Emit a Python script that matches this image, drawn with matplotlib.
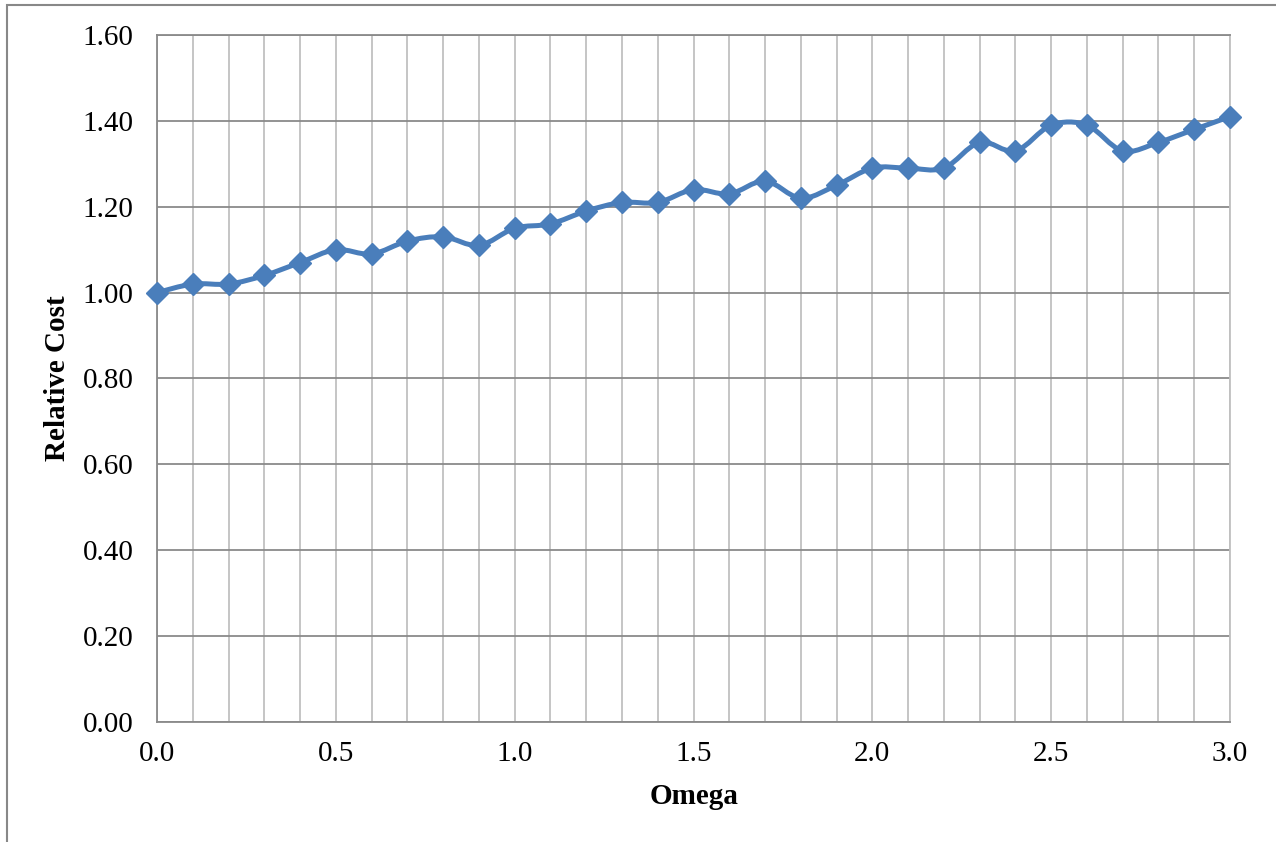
import numpy as np
import matplotlib
matplotlib.use("Agg")
from matplotlib import pyplot as plt
from matplotlib.path import Path
from matplotlib.patches import PathPatch, Rectangle

omega = [0.0, 0.1, 0.2, 0.3, 0.4, 0.5, 0.6, 0.7, 0.8, 0.9, 1.0,
         1.1, 1.2, 1.3, 1.4, 1.5, 1.6, 1.7, 1.8, 1.9, 2.0,
         2.1, 2.2, 2.3, 2.4, 2.5, 2.6, 2.7, 2.8, 2.9, 3.0]
relative_cost = [1.00, 1.02, 1.02, 1.04, 1.07, 1.10, 1.09, 1.12, 1.13, 1.11, 1.15,
                 1.16, 1.19, 1.21, 1.21, 1.24, 1.23, 1.26, 1.22, 1.25, 1.29,
                 1.29, 1.29, 1.35, 1.33, 1.39, 1.39, 1.33, 1.35, 1.38, 1.41]
y_ticks = [0.0, 0.2, 0.4, 0.6, 0.8, 1.0, 1.2, 1.4, 1.6]
x_ticks = [0.0, 0.5, 1.0, 1.5, 2.0, 2.5, 3.0]

plt.rcParams['font.family'] = ['Liberation Serif', 'DejaVu Serif']

fig = plt.figure(figsize=(12.76, 8.42), dpi=100)
ax = fig.add_axes([157 / 1276, 1 - 722 / 842, (1230 - 157) / 1276, (722 - 35) / 842])

# outer chart border (cropped on right/bottom)
fig.patches.append(Rectangle((7 / 1276, -0.05), 1.2, 1 - 5 / 842 + 0.05,
                             transform=fig.transFigure, fill=False,
                             edgecolor='#888888', linewidth=1.5))

# Excel-like smoothed line: Catmull-Rom as cubic Bezier segments
x = np.array(omega)
y = np.array(relative_cost)
t = 1 / 6
verts = [(x[0], y[0])]
codes = [Path.MOVETO]
n = len(x)
for i in range(n - 1):
    p0 = (x[max(i - 1, 0)], y[max(i - 1, 0)])
    p1 = (x[i], y[i])
    p2 = (x[i + 1], y[i + 1])
    p3 = (x[min(i + 2, n - 1)], y[min(i + 2, n - 1)])
    c1 = (p1[0] + (p2[0] - p0[0]) * t, p1[1] + (p2[1] - p0[1]) * t)
    c2 = (p2[0] - (p3[0] - p1[0]) * t, p2[1] - (p3[1] - p1[1]) * t)
    verts += [c1, c2, p2]
    codes += [Path.CURVE4] * 3
ax.add_patch(PathPatch(Path(verts, codes), fill=False, edgecolor='#4a7ebb',
                       linewidth=3.6, capstyle='round', joinstyle='round',
                       zorder=3, clip_on=False))
ax.plot(omega, relative_cost, linestyle='none', marker='D', markersize=11,
        color='#4a7ebb', zorder=4, clip_on=False)

ax.set_xlim(0, 3.0)
ax.set_ylim(0, 1.6)
ax.set_xticks(x_ticks)
ax.set_xticklabels([f"{v:.1f}" for v in x_ticks])
ax.set_xticks(omega, minor=True)
ax.set_yticks(y_ticks)
ax.set_yticklabels([f"{v:.2f}" for v in y_ticks])

ax.grid(True, which='both', axis='x', color='#c0c0c0', linewidth=1.3)
ax.grid(True, which='major', axis='y', color='#8a8a8a', linewidth=1.3)
ax.set_axisbelow(True)

for side in ['left', 'bottom', 'top']:
    ax.spines[side].set_color('#8a8a8a')
    ax.spines[side].set_linewidth(1.3)
ax.spines['right'].set_color('#c0c0c0')
ax.spines['right'].set_linewidth(1.3)

ax.tick_params(which='both', length=0, labelsize=21, colors='black')
ax.tick_params(axis='x', pad=14)
ax.tick_params(axis='y', pad=17)

ax.set_xlabel("Omega", fontsize=21, fontweight='bold', va='center', ha='center')
ax.set_ylabel("Relative Cost", fontsize=21, fontweight='bold', va='center', ha='center')
ax.xaxis.set_label_coords(0.5005, -0.109)
ax.yaxis.set_label_coords(-0.0923, 0.5)

plt.savefig("out.png", dpi=100)
